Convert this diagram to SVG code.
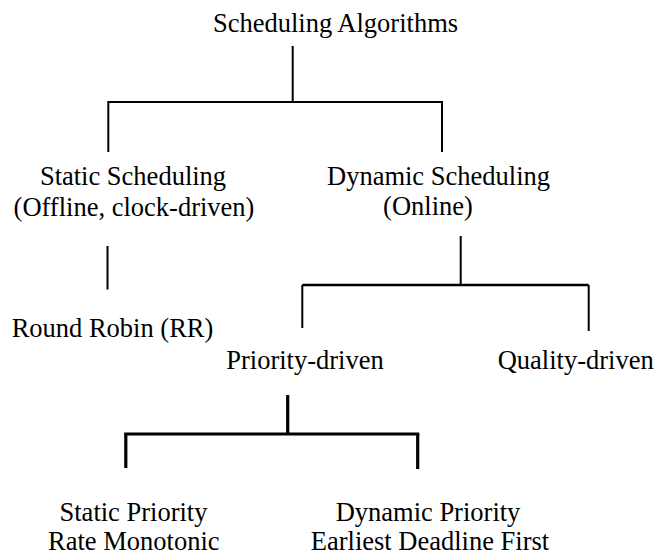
<svg xmlns="http://www.w3.org/2000/svg" width="667" height="554" viewBox="0 0 667 554">
  <style>
    text { font-size: 26.5px; fill: #000; text-anchor: middle; }
    .ln { stroke: #000; fill: none; stroke-linecap: butt; }
    .thin { stroke-width: 2; }
    .mid { stroke-width: 2.7; }
    .thick { stroke-width: 3.2; }
  </style>
  <rect width="667" height="554" fill="#fff"/>

  <!-- tree connectors -->
  <g id="connectors">
    <!-- root to static/dynamic -->
    <path class="ln thin" d="M292.7 46 V102"/>
    <path class="ln thin" d="M108.3 152 V102 H442 V152"/>
    <!-- static to round robin -->
    <path class="ln thin" d="M107.5 246 V289.5"/>
    <!-- dynamic to priority/quality -->
    <path class="ln thin" d="M460.7 236 V285"/>
    <path class="ln mid" d="M302.3 285 H588.7"/>
    <path class="ln thin" d="M302.3 285 V328 M588.7 285 V331"/>
    <!-- priority-driven to static/dynamic priority -->
    <path class="ln thick" d="M287.7 395 V434"/>
    <path class="ln thick" d="M124.2 434 H419.3"/>
    <path class="ln thick" d="M125.8 434 V468 M417.7 434 V469"/>
  </g>

  <g font-family="'Liberation Serif', Tinos, 'Times New Roman', 'DejaVu Serif', serif">
    <g id="root">
      <text x="335.5" y="32">Scheduling Algorithms</text>
    </g>
    <g id="static-scheduling">
      <text x="133" y="184.5">Static Scheduling</text>
      <text x="134" y="215.5">(Offline, clock-driven)</text>
    </g>
    <g id="dynamic-scheduling">
      <text x="438.5" y="185">Dynamic Scheduling</text>
      <text x="428" y="215">(Online)</text>
    </g>
    <g id="round-robin">
      <text x="112.5" y="337">Round Robin (RR)</text>
    </g>
    <g id="priority-driven">
      <text x="305" y="368.5">Priority-driven</text>
    </g>
    <g id="quality-driven">
      <text x="575.7" y="368.5">Quality-driven</text>
    </g>
    <g id="static-priority">
      <text x="133.5" y="521">Static Priority</text>
      <text x="133.8" y="549.5">Rate Monotonic</text>
    </g>
    <g id="dynamic-priority">
      <text x="428" y="521">Dynamic Priority</text>
      <text x="430" y="549.5">Earliest Deadline First</text>
    </g>
  </g>
</svg>
